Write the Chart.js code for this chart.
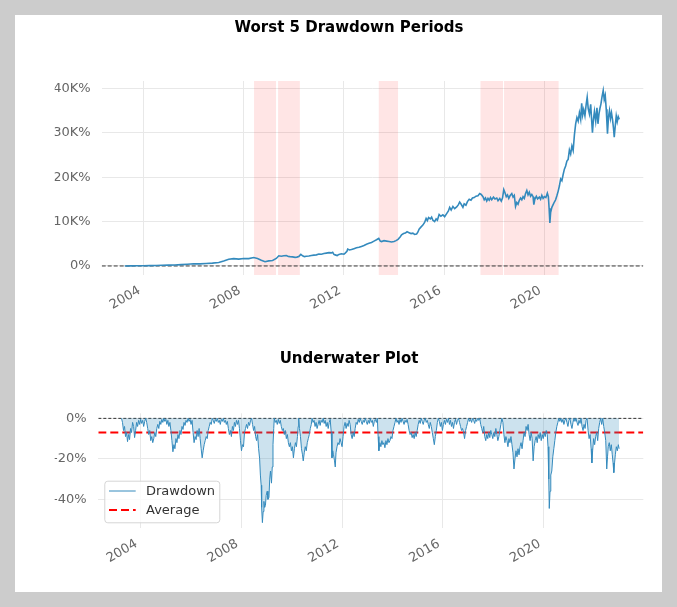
<!DOCTYPE html>
<html>
<head>
<meta charset="utf-8">
<script src="https://cdn.jsdelivr.net/npm/chart.js@4.4.1/dist/chart.umd.min.js"></script>
<style>
  body { margin: 0; background: #cccccc; }
  #panel { position: absolute; left: 15px; top: 15px; width: 647px; height: 577px; background: #ffffff; }
  #topBox { position: absolute; left: 0; top: 0; width: 647px; height: 315px; }
  #bottomBox { position: absolute; left: 0; top: 315px; width: 647px; height: 262px; }
</style>
</head>
<body>
<div id="panel">
  <div id="topBox"><canvas id="returnsChart" width="647" height="315"></canvas></div>
  <div id="bottomBox"><canvas id="underwaterChart" width="647" height="262"></canvas></div>
</div>
<script>
// Cumulative returns (%)
const retYears = [
  2003.25, 2003.5, 2003.75, 2004.0, 2004.25, 2004.5, 2004.75, 2005.0, 2005.25, 2005.5,
  2005.75, 2006.0, 2006.25, 2006.5, 2006.75, 2007.0, 2007.2, 2007.4, 2007.6, 2007.8,
  2008.0, 2008.2, 2008.4, 2008.55, 2008.7, 2008.85, 2009.0, 2009.15, 2009.3, 2009.4,
  2009.5, 2009.6, 2009.7, 2009.78, 2009.85, 2009.95, 2010.05, 2010.12, 2010.2, 2010.28,
  2010.35, 2010.42, 2010.5, 2010.6, 2010.7, 2010.8, 2010.9, 2011.0, 2011.1, 2011.2,
  2011.3, 2011.4, 2011.5, 2011.55, 2011.6, 2011.65, 2011.73, 2011.8, 2011.9, 2012.0,
  2012.05, 2012.12, 2012.15, 2012.22, 2012.3, 2012.4, 2012.5, 2012.6, 2012.7, 2012.8,
  2012.9, 2013.0, 2013.1, 2013.2, 2013.3, 2013.39, 2013.45, 2013.5, 2013.6, 2013.7,
  2013.8, 2013.9, 2014.0, 2014.08, 2014.16, 2014.25, 2014.3, 2014.38, 2014.45, 2014.52,
  2014.6, 2014.68, 2014.75, 2014.82, 2014.9, 2014.95, 2015.0, 2015.08, 2015.15, 2015.22,
  2015.28, 2015.33, 2015.38, 2015.45, 2015.5, 2015.55, 2015.62, 2015.68, 2015.73, 2015.8,
  2015.87, 2015.95, 2016.02, 2016.1, 2016.17, 2016.22, 2016.28, 2016.35, 2016.42, 2016.5,
  2016.57, 2016.62, 2016.68, 2016.75, 2016.8, 2016.87, 2016.93, 2017.0, 2017.07, 2017.13,
  2017.2, 2017.27, 2017.35, 2017.42, 2017.48, 2017.55, 2017.6, 2017.65, 2017.7, 2017.75,
  2017.8, 2017.85, 2017.9, 2017.97, 2018.03, 2018.1, 2018.15, 2018.22, 2018.28, 2018.33,
  2018.38, 2018.43, 2018.48, 2018.53, 2018.58, 2018.63, 2018.7, 2018.75, 2018.8, 2018.85,
  2018.9, 2018.95, 2019.0, 2019.05, 2019.1, 2019.15, 2019.2, 2019.25, 2019.3, 2019.35,
  2019.4, 2019.45, 2019.5, 2019.55, 2019.58, 2019.62, 2019.68, 2019.73, 2019.8, 2019.85,
  2019.9, 2019.95, 2020.0, 2020.06, 2020.12, 2020.16, 2020.19, 2020.22, 2020.25, 2020.3,
  2020.35, 2020.4, 2020.45, 2020.5, 2020.55, 2020.6, 2020.65, 2020.7, 2020.75, 2020.8,
  2020.85, 2020.9, 2020.95, 2021.0, 2021.05, 2021.1, 2021.15, 2021.2, 2021.25, 2021.3,
  2021.35, 2021.4, 2021.45, 2021.49, 2021.53, 2021.57, 2021.62, 2021.67, 2021.71, 2021.75,
  2021.8, 2021.85, 2021.88, 2021.92, 2021.96, 2022.0, 2022.05, 2022.1, 2022.14, 2022.18,
  2022.22, 2022.26, 2022.3, 2022.35, 2022.39, 2022.43, 2022.47, 2022.5, 2022.52, 2022.56,
  2022.6, 2022.64, 2022.68, 2022.72, 2022.76, 2022.79, 2022.83, 2022.87, 2022.91, 2022.95,
  2022.99
];
const retValues = [
  0, 20, 40, 60, 80, 100, 150, 200, 230, 300,
  400, 500, 480, 550, 650, 800, 1100, 1500, 1650, 1550,
  1700, 1650, 1900, 1700, 1300, 950, 1150, 1250, 1700, 2300,
  2200, 2300, 2350, 2150, 2100, 2050, 1950, 2000, 2150, 2600,
  2300, 2100, 2200, 2250, 2350, 2450, 2500, 2700, 2650, 2800,
  2900, 3000, 2950, 3100, 2600, 2500, 2350, 2600, 2750, 2650,
  2900, 3300, 3800, 3600, 3700, 3900, 4100, 4200, 4400, 4600,
  4900, 5100, 5300, 5600, 5900, 6200, 5600, 5500, 5700, 5600,
  5500, 5400, 5500, 5700, 6000, 6600, 7000, 7300, 7400, 7700,
  7500, 7300, 7400, 7100, 7200, 7600, 8300, 8800, 9200, 9800,
  10700, 10200, 10900, 10600, 11000, 10300, 10000, 10600, 10300, 11600,
  11200, 11500, 11100, 11800, 12400, 13200, 12600, 13400, 12900, 13300,
  13800, 14400, 13900, 13200, 14000, 13700, 14500, 15000, 14800, 15300,
  15400, 15700, 15800, 16300, 16100, 15600, 14900, 15300, 14600, 15200,
  14800, 15400, 14900, 15500, 15100, 15300, 14700, 15200, 14600, 15300,
  17200, 16500, 15600, 16000, 15200, 15800, 16300, 15500, 15900, 13400,
  14300, 13900, 14800, 15300, 14900, 15600, 15200, 16300, 17000, 16000,
  16600, 15700, 16100, 15600, 13800, 15000, 15700, 15100, 15500, 15000,
  15900, 15200, 15600, 15400, 16400, 15600, 13000, 9700, 12000, 13200,
  13800, 14400, 14900, 15800, 16800, 18000, 19600, 19200, 20600, 21800,
  22500, 23600, 24000, 26100, 25200, 27000, 26000, 29500, 32000, 33400,
  32600, 34500, 33000, 36600, 34000, 35200, 33800, 36400, 38000, 35500,
  34200, 36400, 33500, 30000, 33000, 34800, 32600, 35600, 32000, 34200,
  35500, 36500, 38000, 39500, 37500, 38400, 35300, 32000, 29800, 33500,
  35000, 33200, 34500, 33000, 31000, 29000, 31500, 33800, 32500, 33600,
  33000
];

// Drawdown (%)
const ddYears = [
  2003.25, 2003.29, 2003.33, 2003.37, 2003.41, 2003.45, 2003.49, 2003.53, 2003.57, 2003.61,
  2003.65, 2003.69, 2003.73, 2003.77, 2003.81, 2003.85, 2003.89, 2003.93, 2003.97, 2004.01,
  2004.05, 2004.09, 2004.13, 2004.17, 2004.21, 2004.25, 2004.29, 2004.33, 2004.37, 2004.41,
  2004.45, 2004.49, 2004.53, 2004.57, 2004.61, 2004.65, 2004.69, 2004.73, 2004.77, 2004.81,
  2004.85, 2004.89, 2004.93, 2004.97, 2005.01, 2005.05, 2005.09, 2005.13, 2005.17, 2005.21,
  2005.25, 2005.29, 2005.33, 2005.37, 2005.41, 2005.45, 2005.49, 2005.53, 2005.57, 2005.61,
  2005.65, 2005.69, 2005.73, 2005.77, 2005.81, 2005.85, 2005.89, 2005.93, 2005.97, 2006.01,
  2006.05, 2006.09, 2006.13, 2006.17, 2006.21, 2006.25, 2006.29, 2006.33, 2006.37, 2006.41,
  2006.45, 2006.49, 2006.53, 2006.57, 2006.61, 2006.65, 2006.69, 2006.73, 2006.77, 2006.81,
  2006.85, 2006.89, 2006.93, 2006.97, 2007.01, 2007.05, 2007.09, 2007.13, 2007.17, 2007.21,
  2007.25, 2007.29, 2007.33, 2007.37, 2007.41, 2007.45, 2007.49, 2007.53, 2007.57, 2007.61,
  2007.65, 2007.69, 2007.73, 2007.77, 2007.81, 2007.85, 2007.89, 2007.93, 2007.97, 2008.01,
  2008.05, 2008.09, 2008.13, 2008.17, 2008.21, 2008.25, 2008.29, 2008.33, 2008.37, 2008.41,
  2008.45, 2008.49, 2008.53, 2008.57, 2008.61, 2008.65, 2008.69, 2008.73, 2008.76, 2008.79,
  2008.81, 2008.84, 2008.87, 2008.90, 2008.93, 2008.96, 2008.99, 2009.03, 2009.06, 2009.10,
  2009.13, 2009.16, 2009.20, 2009.23, 2009.26, 2009.29, 2009.31, 2009.35, 2009.39, 2009.43,
  2009.47, 2009.51, 2009.55, 2009.59, 2009.63, 2009.67, 2009.71, 2009.75, 2009.79, 2009.83,
  2009.87, 2009.91, 2009.95, 2009.99, 2010.03, 2010.07, 2010.11, 2010.15, 2010.19, 2010.23,
  2010.26, 2010.28, 2010.31, 2010.35, 2010.39, 2010.43, 2010.46, 2010.50, 2010.54, 2010.58,
  2010.62, 2010.66, 2010.70, 2010.74, 2010.78, 2010.81, 2010.85, 2010.89, 2010.93, 2010.97,
  2011.01, 2011.05, 2011.09, 2011.13, 2011.17, 2011.21, 2011.25, 2011.29, 2011.33, 2011.37,
  2011.41, 2011.45, 2011.49, 2011.53, 2011.57, 2011.60, 2011.63, 2011.66, 2011.70, 2011.73,
  2011.76, 2011.80, 2011.84, 2011.88, 2011.92, 2011.96, 2012.00, 2012.04, 2012.08, 2012.12,
  2012.16, 2012.20, 2012.24, 2012.28, 2012.32, 2012.36, 2012.40, 2012.44, 2012.48, 2012.52,
  2012.56, 2012.60, 2012.64, 2012.68, 2012.72, 2012.76, 2012.80, 2012.84, 2012.88, 2012.92,
  2012.96, 2013.00, 2013.04, 2013.08, 2013.12, 2013.16, 2013.20, 2013.24, 2013.28, 2013.32,
  2013.36, 2013.40, 2013.43, 2013.46, 2013.50, 2013.54, 2013.58, 2013.62, 2013.66, 2013.70,
  2013.74, 2013.78, 2013.82, 2013.86, 2013.90, 2013.94, 2013.98, 2014.02, 2014.06, 2014.10,
  2014.14, 2014.18, 2014.22, 2014.26, 2014.30, 2014.34, 2014.38, 2014.42, 2014.46, 2014.50,
  2014.54, 2014.58, 2014.62, 2014.66, 2014.70, 2014.74, 2014.78, 2014.82, 2014.86, 2014.90,
  2014.94, 2014.98, 2015.02, 2015.06, 2015.10, 2015.14, 2015.18, 2015.22, 2015.26, 2015.30,
  2015.34, 2015.38, 2015.42, 2015.46, 2015.50, 2015.54, 2015.58, 2015.62, 2015.66, 2015.70,
  2015.74, 2015.78, 2015.82, 2015.86, 2015.90, 2015.94, 2015.98, 2016.02, 2016.06, 2016.10,
  2016.14, 2016.18, 2016.22, 2016.26, 2016.30, 2016.34, 2016.38, 2016.42, 2016.46, 2016.50,
  2016.54, 2016.58, 2016.62, 2016.66, 2016.70, 2016.74, 2016.78, 2016.82, 2016.86, 2016.90,
  2016.94, 2016.98, 2017.02, 2017.06, 2017.10, 2017.14, 2017.18, 2017.22, 2017.26, 2017.30,
  2017.34, 2017.38, 2017.42, 2017.46, 2017.50, 2017.54, 2017.58, 2017.62, 2017.66, 2017.70,
  2017.74, 2017.78, 2017.82, 2017.86, 2017.90, 2017.94, 2017.98, 2018.02, 2018.06, 2018.10,
  2018.14, 2018.18, 2018.22, 2018.26, 2018.30, 2018.34, 2018.38, 2018.42, 2018.46, 2018.50,
  2018.54, 2018.58, 2018.62, 2018.66, 2018.70, 2018.74, 2018.78, 2018.82, 2018.86, 2018.90,
  2018.94, 2018.98, 2019.02, 2019.06, 2019.10, 2019.14, 2019.18, 2019.22, 2019.26, 2019.30,
  2019.34, 2019.38, 2019.42, 2019.46, 2019.50, 2019.54, 2019.58, 2019.62, 2019.66, 2019.70,
  2019.74, 2019.78, 2019.82, 2019.86, 2019.90, 2019.94, 2019.98, 2020.02, 2020.06, 2020.10,
  2020.14, 2020.17, 2020.20, 2020.22, 2020.25, 2020.28, 2020.32, 2020.36, 2020.40, 2020.44,
  2020.48, 2020.52, 2020.56, 2020.60, 2020.64, 2020.68, 2020.72, 2020.76, 2020.80, 2020.84,
  2020.88, 2020.92, 2020.96, 2021.00, 2021.04, 2021.08, 2021.12, 2021.16, 2021.20, 2021.24,
  2021.28, 2021.32, 2021.36, 2021.40, 2021.44, 2021.48, 2021.52, 2021.56, 2021.60, 2021.64,
  2021.68, 2021.72, 2021.76, 2021.80, 2021.84, 2021.88, 2021.91, 2021.94, 2021.98, 2022.02,
  2022.06, 2022.10, 2022.14, 2022.18, 2022.22, 2022.26, 2022.30, 2022.34, 2022.38, 2022.42,
  2022.46, 2022.50, 2022.53, 2022.56, 2022.60, 2022.64, 2022.68, 2022.72, 2022.75, 2022.78,
  2022.81, 2022.84, 2022.88, 2022.92, 2022.96, 2022.99
];
const ddValues = [
  0, -2, -6, -4, -9, -7, -11.5, -8, -10.5, -5,
  -7, -2, -4, -9.5, -6, -2, -4, -1, -3, -0.5,
  -2.5, -1, -4, -1.5, 0, -2, -5, -8, -6, -11,
  -9, -12, -10, -7, -9, -5, -3, -5, -1.5, -3,
  -0.5, -2, 0, -1.5, -0.5, -3, -1, -4, -2, -6,
  -11, -16.5, -13, -15, -10, -12, -8, -10, -6, -8,
  -4, -5.5, -2, -3.5, -1, -2, 0, -1.5, -0.5, -3,
  -1, -7, -12, -9, -10.5, -6, -9, -5, -10, -15,
  -19.5, -16, -13, -11, -9, -10, -6, -4, -2, -3,
  0, -1, -2.5, -0.5, -1.5, 0, -2, -1, -3, -0.5,
  -1.5, 0, -2, -1, -3, -1.5, -5, -8, -6, -9,
  -4, -6, -2, -4, -1, -3, -1, -5, -11, -16,
  -13, -14, -7, -5, -3, -5, -2, -3.5, -1, 0,
  -3, -6, -4, -9, -11, -8, -15, -20, -28, -33,
  -44, -51.5, -46, -41, -44, -43, -38, -36, -40, -39,
  -30, -26, -32, -24, -13, -5, 0, -2, -1, -3,
  -0.5, -2.5, -1, -4, -6, -5, -8, -6, -10, -8,
  -12, -14, -12, -16, -14, -19.5, -15, -12, -14, -9,
  -4, 0, -5, -9, -15, -18, -21, -17, -14, -16,
  -12, -10, -8, -5, -3, 0, -2, -1, -4, -2,
  -5, -3, -1, -3.5, -1, -2, 0, -2.5, -1, -4,
  -2, -5, -2, -0.5, -7, -19.5, -16, -18, -21, -24,
  -17, -14, -12, -13, -10, -12, -14, -9, -4, -2,
  -5, -2.5, -4, -1, -3, -8, -10, -7, -9, -5,
  -2, -3, -0.5, -2, 0, -1.5, -3, -1, -2, 0,
  -1.5, -3, -1, -2.5, 0, -2, -1, -4, -1.5, -0.5,
  -2, 0, -9, -16, -12, -14, -11, -13, -12, -14.5,
  -11, -13, -10, -12, -11, -9, -10, -6, -4, -2,
  0, -2, -1, -3, -0.5, -2, 0, -1.5, -3, -1,
  -2, -0.5, -3, -6, -8, -7, -9.5, -8, -10, -7,
  -9, -6, -3, -1, -2.5, 0, -1.5, -3, -1, 0,
  -2, -1, -3, -5, -2, -4, -7, -10, -13, -9,
  -6, -2, 0, -1.5, -4, -2, -6, -3, -1, -3,
  -0.5, -2, 0, -3, -1, -4, -2, -5, -2, -0.5,
  -3, -1, 0, -2, -4, -6, -5, -7, -10, -6,
  -4, -2, 0, -1.5, -0.5, -2, 0, -1, -2.5, -0.5,
  -1.5, 0, -1, 0, -3, -5, -7, -4, -9, -11,
  -8, -10, -7, -9.5, -6, -8, -10, -7, -9, -5,
  -8, -11, -9, -6, -3, 0, -2, -8, -12, -9,
  -11, -14, -10, -12, -9, -13, -17, -25, -20, -16,
  -19, -15, -18, -14, -12, -15, -11, -7, -9, -4,
  -6, -3, -8, -11, -7, -10, -21, -14, -11, -9,
  -12, -8, -10, -7, -11, -8, -10, -7, -9, -6,
  -8, -14, -30, -44.5, -36, -28, -26, -19, -15, -11,
  -7, -4, -2, 0, -1.5, 0, -2, -0.5, -3, -1,
  0, -2, -4, -1, 0, -3, -5, -2, 0, -1.5,
  0, -2, -3.5, -1, -2.5, 0, -4, -6, -3, -5,
  -1, 0, -6, -10, -8, -15, -22, -16, -10, -13,
  -9, -7, -11, -5, -2, 0, -3, 0, -4, -7,
  -11, -25, -19, -14, -12, -16, -13, -18, -22, -26.8,
  -22, -18, -14, -16, -13, -15
];
const avgDrawdown = -7.0;

// Worst 5 drawdown periods (shaded)
const shadeStarts = [2008.41, 2009.37, 2013.39, 2017.45, 2018.39];
const shadeEnds   = [2009.29, 2010.24, 2014.16, 2018.35, 2020.57];

// Axis ranges and ticks
const xMin = 2002.33;
const xMax = 2023.95;
const yearTicks = [2004, 2008, 2012, 2016, 2020];
const retTicks = [0, 10000, 20000, 30000, 40000];
const ddTicks = [-40, -20, 0];

const lineBlue = '#348abd';
const gridColor = '#e8e8e8';
const tickColor = '#666666';

Chart.defaults.font.family = "'DejaVu Sans', sans-serif";
Chart.defaults.color = tickColor;

const shadePlugin = {
    id: 'shade',
    beforeDatasetsDraw(chart) {
        const { ctx, chartArea, scales } = chart;
        ctx.save();
        ctx.fillStyle = 'rgba(255, 0, 0, 0.1)';
        shadeStarts.forEach((start, i) => {
            const x0 = scales.x.getPixelForValue(start);
            const x1 = scales.x.getPixelForValue(shadeEnds[i]);
            ctx.fillRect(x0, chartArea.top, x1 - x0, chartArea.bottom - chartArea.top);
        });
        ctx.restore();
    }
};

// matplotlib-style legend box in the lower left of the plot
const boxLegendPlugin = {
    id: 'boxLegend',
    afterDraw(chart) {
        const { ctx, chartArea } = chart;
        const w = 115, h = 41.6;
        const x = chartArea.left + 6;
        const y = chartArea.bottom - 6 - h;
        ctx.save();
        ctx.fillStyle = 'rgba(255, 255, 255, 0.8)';
        ctx.strokeStyle = '#d5d5d5';
        ctx.lineWidth = 1;
        ctx.beginPath();
        ctx.roundRect(x + 0.5, y + 0.5, w, h, 3);
        ctx.fill();
        ctx.stroke();

        const items = chart.data.datasets.filter(ds => ds.inLegend);
        ctx.font = "13px 'DejaVu Sans', sans-serif";
        ctx.textBaseline = 'middle';
        items.forEach((ds, i) => {
            const ly = y + 10.3 + i * 19;
            ctx.strokeStyle = ds.borderColor;
            ctx.lineWidth = ds.borderWidth;
            ctx.setLineDash(ds.borderDash || []);
            ctx.beginPath();
            ctx.moveTo(x + 4.7, ly);
            ctx.lineTo(x + 31.4, ly);
            ctx.stroke();
            ctx.setLineDash([]);
            ctx.fillStyle = '#333333';
            ctx.fillText(ds.label, x + 41.7, ly + 1);
        });
        ctx.restore();
    }
};

function xAxis(height) {
    return {
        type: 'linear',
        min: xMin,
        max: xMax,
        afterBuildTicks: axis => { axis.ticks = yearTicks.map(v => ({ value: v })); },
        afterFit: scale => { scale.height = height; },
        grid: { color: gridColor, drawTicks: false },
        border: { display: false },
        ticks: {
            minRotation: 30,
            maxRotation: 30,
            padding: 8,
            labelOffset: -4,
            font: { size: 13 },
            callback: v => String(v)
        }
    };
}

function makeReturnsChart() {
    const ctx = document.getElementById('returnsChart').getContext('2d');
    const points = retYears.map((yr, i) => ({ x: yr, y: retValues[i] }));
    new Chart(ctx, {
        type: 'line',
        data: {
            datasets: [
                {
                    label: 'Cumulative returns',
                    data: points,
                    borderColor: lineBlue,
                    borderWidth: 1.6,
                    pointRadius: 0,
                    tension: 0
                },
                {
                    label: 'Zero',
                    data: [{ x: xMin, y: 0 }, { x: xMax, y: 0 }],
                    borderColor: '#3a3a3a',
                    borderWidth: 1,
                    borderDash: [4, 2],
                    pointRadius: 0
                }
            ]
        },
        options: {
            responsive: false,
            animation: false,
            layout: { padding: { left: 39.7, right: 18.7, top: 0, bottom: 0 } },
            plugins: {
                legend: { display: false },
                tooltip: { enabled: false },
                title: {
                    display: true,
                    text: 'Worst 5 Drawdown Periods',
                    color: '#000000',
                    font: { size: 15, weight: 'bold' },
                    padding: { top: 4, bottom: 44 }
                }
            },
            scales: {
                x: xAxis(55),
                y: {
                    min: -2030,
                    max: 41640,
                    afterBuildTicks: axis => { axis.ticks = retTicks.map(v => ({ value: v })); },
                    afterFit: scale => { scale.width = 47; },
                    grid: { color: gridColor, drawTicks: false },
                    border: { display: false },
                    ticks: {
                        padding: 11,
                        font: { size: 13 },
                        callback: v => v === 0 ? '0%' : (v / 1000) + 'K%'
                    }
                }
            }
        },
        plugins: [shadePlugin]
    });
}

function makeUnderwaterChart() {
    const ctx = document.getElementById('underwaterChart').getContext('2d');
    const points = ddYears.map((yr, i) => ({ x: yr, y: ddValues[i] }));
    new Chart(ctx, {
        type: 'line',
        data: {
            datasets: [
                {
                    label: 'Drawdown',
                    inLegend: true,
                    data: points,
                    borderColor: lineBlue,
                    backgroundColor: 'rgba(52, 138, 189, 0.25)',
                    borderWidth: 1,
                    fill: 'origin',
                    pointRadius: 0,
                    tension: 0
                },
                {
                    label: 'Average',
                    inLegend: true,
                    data: [{ x: xMin, y: avgDrawdown }, { x: xMax, y: avgDrawdown }],
                    borderColor: '#ff0000',
                    borderWidth: 2,
                    borderDash: [8, 4],
                    pointRadius: 0
                },
                {
                    label: 'Zero',
                    data: [{ x: xMin, y: 0 }, { x: xMax, y: 0 }],
                    borderColor: '#000000',
                    borderWidth: 0.8,
                    borderDash: [3, 2],
                    pointRadius: 0
                }
            ]
        },
        options: {
            responsive: false,
            animation: false,
            layout: { padding: { left: 39.7, right: 18.7, top: 0, bottom: 0 } },
            plugins: {
                legend: { display: false },
                tooltip: { enabled: false },
                title: {
                    display: true,
                    text: 'Underwater Plot',
                    color: '#000000',
                    font: { size: 15, weight: 'bold' },
                    padding: { top: 20, bottom: 45.3 }
                }
            },
            scales: {
                x: xAxis(63.7),
                y: {
                    min: -54.3,
                    max: 2.5,
                    afterBuildTicks: axis => { axis.ticks = ddTicks.map(v => ({ value: v })); },
                    afterFit: scale => { scale.width = 43.6; },
                    grid: { color: gridColor, drawTicks: false },
                    border: { display: false },
                    ticks: {
                        padding: 11.6,
                        font: { size: 13 },
                        callback: v => v + '%'
                    }
                }
            }
        },
        plugins: [boxLegendPlugin]
    });
}

makeReturnsChart();
makeUnderwaterChart();
</script>
</body>
</html>
